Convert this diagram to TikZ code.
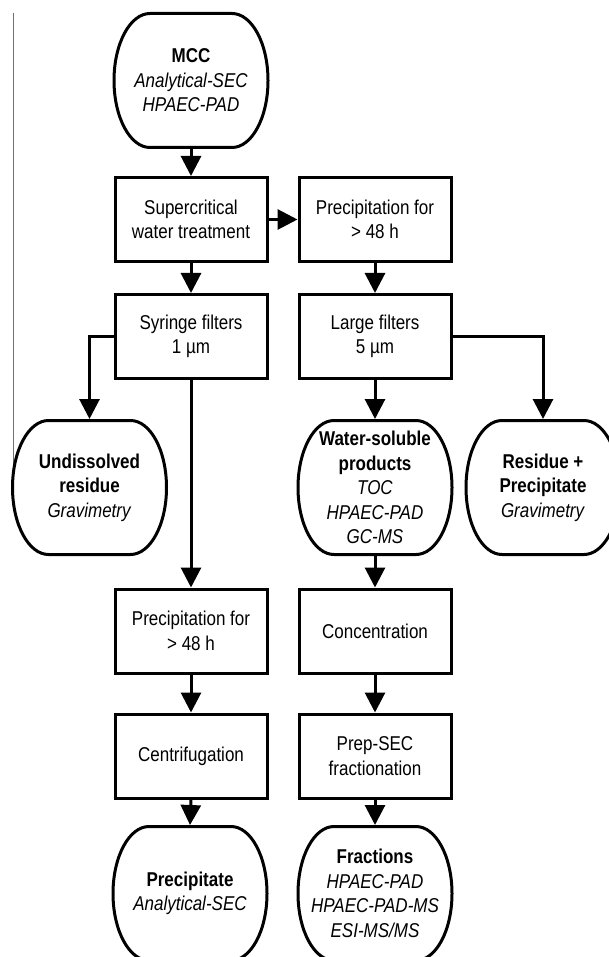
\documentclass[tikz,border=0pt]{standalone}
\usepackage{fontspec}
\setmainfont{Liberation Sans}[FakeStretch=0.85]
\usetikzlibrary{arrows.meta}
\definecolor{scanline}{HTML}{707070}
\begin{document}
\begin{tikzpicture}[x=1pt,y=-1pt,
  every node/.style={font=\fontsize{20}{24.5}\selectfont, align=center, inner sep=0pt},
  box/.style={draw, line width=3pt, minimum width=152pt, minimum height=84pt},
  term/.style={minimum width=151pt, minimum height=134pt, outer sep=1.5pt},
  conn/.style={line width=3pt, -{Triangle[width=20pt,length=20pt]}},
  termline/.style={line width=3pt}
]
\useasboundingbox (0,0) rectangle (609,957);
\clip (0,0) rectangle (609,957);

\draw[line width=1.3pt, scanline] (13.7,13) -- (13.7,466);

\node[term] (mcc) at (191,80.5) {\textbf{MCC}\\\textit{Analytical-SEC}\\\textit{HPAEC-PAD}};
\node[box] (sc) at (191,219.5) {Supercritical\\water treatment};
\node[box] (pr) at (375,219.5) {Precipitation for\\> 48 h};
\node[box] (sy) at (191,336.5) {Syringe filters\\1 µm};
\node[box] (lf) at (375,336.5) {Large filters\\5 µm};
\node[term] (und) at (89.5,487.5) {\textbf{Undissolved}\\\textbf{residue}\\\textit{Gravimetry}};
\node[term] (ws) at (375,487.5) {\textbf{Water-soluble}\\\textbf{products}\\\textit{TOC}\\\textit{HPAEC-PAD}\\\textit{GC-MS}};
\node[term] (res) at (543,487.5) {\textbf{Residue +}\\\textbf{Precipitate}\\\textit{Gravimetry}};
\node[box] (p2) at (191,631) {Precipitation for\\> 48 h};
\node[box] (conc) at (375,631) {Concentration};
\node[box] (cen) at (191,756) {Centrifugation};
\node[box] (prep) at (375,756) {Prep-SEC\\fractionation};
\node[term] (ppt) at (190,893.5) {\textbf{Precipitate}\\\textit{Analytical-SEC}};
\node[term] (fr) at (375,893.5) {\textbf{Fractions}\\\textit{HPAEC-PAD}\\\textit{HPAEC-PAD-MS}\\\textit{ESI-MS/MS}};

\foreach \n in {mcc,und,ws,res,ppt,fr}
  \draw[termline] ([xshift=36pt,yshift=-1.5pt]\n.north west) -- ([xshift=-36pt,yshift=-1.5pt]\n.north east)
    arc[start angle=90,end angle=-90,x radius=36pt,y radius=67pt]
    -- ([xshift=36pt,yshift=1.5pt]\n.south west)
    arc[start angle=270,end angle=90,x radius=36pt,y radius=67pt] -- cycle;

\draw[conn] (mcc.south) -- (sc.north);
\draw[conn] (sc.east) -- (pr.west);
\draw[conn] (pr.south) -- (lf.north);
\draw[conn] (sc.south) -- (sy.north);
\draw[conn] (sy.west) -| (und.north);
\draw[conn] (lf.east) -| (res.north);
\draw[conn] (lf.south) -- (ws.north);
\draw[conn] (sy.south) -- (p2.north);
\draw[conn] (ws.south) -- (conc.north);
\draw[conn] (p2.south) -- (cen.north);
\draw[conn] (conc.south) -- (prep.north);
\draw[conn] (cen.south) -- (ppt.north);
\draw[conn] (prep.south) -- (fr.north);
\end{tikzpicture}
\end{document}
